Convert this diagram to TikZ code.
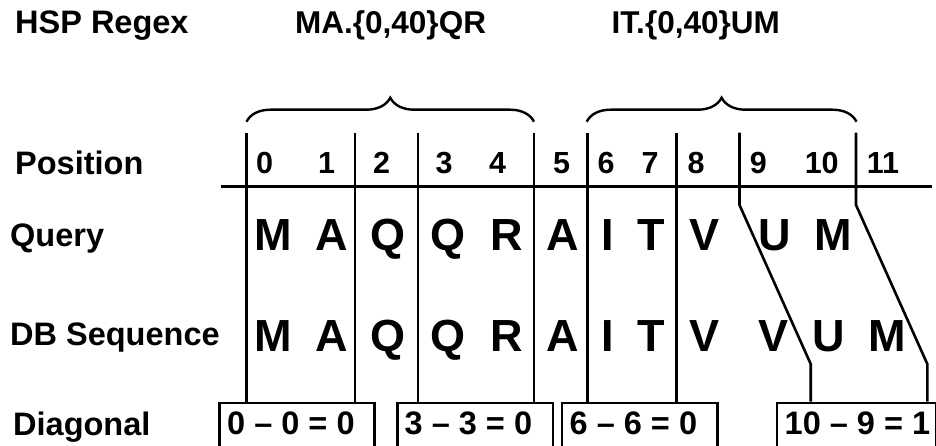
\documentclass[tikz,border=0pt]{standalone}
\usepackage{fontspec}
\setmainfont{Liberation Sans}
\usetikzlibrary{decorations.pathreplacing}
\begin{document}
\begin{tikzpicture}[x=1pt,y=-1pt,
  ln/.style={line width=2.6pt, line cap=butt, line join=miter},
  brc/.style={line width=2.4pt, decorate, decoration={brace, amplitude=24pt}},
  lbl/.style={font=\fontsize{32.5}{32.5}\selectfont\bfseries, anchor=base west, inner sep=0pt},
  rgx/.style={font=\fontsize{31.5}{31.5}\selectfont\bfseries, anchor=base west, inner sep=0pt},
  posdigit/.style={font=\fontsize{30.5}{30.5}\selectfont\bfseries, anchor=base, inner sep=0pt},
  aa/.style={font=\fontsize{45}{45}\selectfont\bfseries, anchor=base, inner sep=0pt},
  dbox/.style={draw, line width=2.6pt, anchor=north west, inner sep=0pt},
  dtxt/.style={font=\fontsize{32.5}{32.5}\selectfont\bfseries, anchor=base west, inner sep=0pt}]
\useasboundingbox (0,0) rectangle (936,446);
% header texts
\node[lbl] (hsp) at (15,33.3) {HSP Regex};
\node[rgx] (r1) at (295,33.3) {MA.\{0,40\}QR};
\node[rgx] (r2) at (611.5,33.3) {IT.\{0,40\}UM};
% braces
\coordinate (bl1) at (246.5,121.7);
\coordinate (br1) at (534,121.7);
\coordinate (bl2) at (586.7,121.7);
\coordinate (br2) at (856.5,121.7);
\draw[brc] (bl1) -- (br1);
\draw[brc] (bl2) -- (br2);
% row labels
\node[lbl] (lpos) at (15,175) {Position};
\node[lbl] (lq) at (10,246.7) {Query};
\node[lbl] (ldb) at (10,345) {DB Sequence};
\node[lbl] (ldg) at (13,435) {Diagonal};
% horizontal rule
\coordinate (hl) at (221,186.7);
\coordinate (hr) at (932,186.7);
\draw[ln] (hl) -- (hr);
% position digits
\foreach \n/\x in {0/264.7,1/326.7,2/381.7,3/444,4/497.7,5/561.7,6/606,7/650,8/696,9/758.3,10/821.7,11/883}
  \node[posdigit] (p\n) at (\x,174) {\n};
% query letters
\foreach \i/\c/\x in {0/M/273.7,1/A/332,2/Q/388,3/Q/447.5,4/R/507,5/A/562.7,6/I/607.7,7/T/651.7,8/V/704,9/U/775,10/M/833}
  \node[aa] (q\i) at (\x,251) {\c};
% db letters
\foreach \i/\c/\x in {0/M/273.7,1/A/332,2/Q/388,3/Q/447.5,4/R/507,5/A/562.7,6/I/607.7,7/T/651.7,8/V/704,9/V/773,10/U/829,11/M/887}
  \node[aa] (d\i) at (\x,351) {\c};
% diagonal boxes
\node[dbox, minimum width=155pt, minimum height=46pt] (b1) at (218.3,401.5) {};
\node[dbox, minimum width=155.7pt, minimum height=46pt] (b2) at (396,401.5) {};
\node[dbox, minimum width=155.5pt, minimum height=46pt] (b3) at (560.5,401.5) {};
\node[dbox, minimum width=159.5pt, minimum height=46pt] (b4) at (775.5,401.5) {};
\node[dtxt] (t1) at (227,434) {0 – 0 = 0};
\node[dtxt] (t2) at (404.5,434) {3 – 3 = 0};
\node[dtxt] (t3) at (569.5,434) {6 – 6 = 0};
\node[dtxt] (t4) at (784.5,434) {10 – 9 = 1};
% vertical lines
\coordinate (v1) at (246.7,132.7);
\coordinate (v2) at (355,132.7);
\coordinate (v3) at (417.8,132.7);
\coordinate (v4) at (534,132.7);
\coordinate (v5) at (587.5,132.7);
\coordinate (v6) at (676.7,132.7);
\coordinate (v7) at (739.5,132.7);
\coordinate (v8) at (856,132.7);
\draw[ln] (v1) -- (v1 |- b1.north);
\draw[ln] (v2) -- (v2 |- b1.north);
\draw[ln] (v3) -- (v3 |- b2.north);
\draw[ln] (v4) -- (v4 |- b2.north);
\draw[ln] (v5) -- (v5 |- b3.north);
\draw[ln] (v6) -- (v6 |- b3.north);
% slanted lines
\coordinate (s1a) at (739.5,205);
\coordinate (s1b) at (810.7,364);
\coordinate (s2a) at (856,205);
\coordinate (s2b) at (927.3,364);
\draw[ln] (v7) -- (s1a) -- (s1b) -- (s1b |- b4.north);
\draw[ln] (v8) -- (s2a) -- (s2b) -- (s2b |- b4.north);
\end{tikzpicture}
\end{document}
